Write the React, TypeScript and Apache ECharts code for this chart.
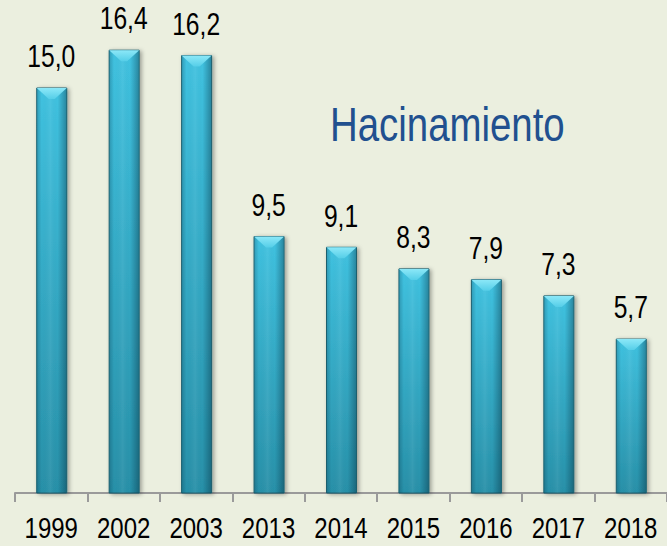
import React, { useEffect, useRef } from "react";
import * as echarts from "echarts";

const years = ["1999", "2002", "2003", "2013", "2014", "2015", "2016", "2017", "2018"];
const values = [15.0, 16.4, 16.2, 9.5, 9.1, 8.3, 7.9, 7.3, 5.7];
const titleText = "Hacinamiento";

const FONT = '"Liberation Sans", Arial, sans-serif';

export default function App() {
  const ref = useRef<HTMLDivElement>(null);
  useEffect(() => {
    if (!ref.current) return;
    const chart = echarts.init(ref.current, null, { renderer: "svg" });
    const fmt = (v: number) => v.toFixed(1).replace(".", ",");
    chart.setOption({
      animation: false,
      backgroundColor: "#ebefdf",
      textStyle: { fontFamily: FONT },
      grid: { left: 15, right: -5, top: 7, bottom: 53 },
      xAxis: {
        type: "category",
        data: years,
        axisLine: { lineStyle: { color: "#9a9a9a", width: 2 } },
        axisTick: { show: true, length: 9, interval: 0, lineStyle: { color: "#9a9a9a", width: 2 } },
        axisLabel: { show: false },
      },
      yAxis: { type: "value", min: 0, max: 18, show: false, splitLine: { show: false } },
      graphic: [
        {
          type: "text",
          x: 330,
          y: 100,
          scaleX: 0.8,
          style: {
            text: titleText,
            font: `48px ${FONT}`,
            fill: "#21508f",
            verticalAlign: "top",
          },
        },
      ],
      series: [
        {
          type: "custom",
          data: values.map((v, i) => [i, v]),
          encode: { x: 0, y: 1 },
          renderItem: (params: any, api: any) => {
            const i = api.value(0);
            const v = api.value(1);
            const top = api.coord([i, v]);
            const base = api.coord([i, 0]);
            const w = 30;
            const x0 = top[0] - w / 2 + 0.5;
            const y0 = top[1];
            const h = base[1] - top[1];
            const bev = 11;
            return {
              type: "group",
              children: [
                {
                  type: "rect",
                  shape: { x: x0, y: y0, width: w, height: h },
                  style: {
                    fill: new echarts.graphic.LinearGradient(0, 0, 0, 1, [
                      { offset: 0, color: "#40c2e0" },
                      { offset: 1, color: "#2890a8" },
                    ]),
                    stroke: "#1a5e6e",
                    lineWidth: 1,
                    shadowBlur: 4,
                    shadowOffsetX: 2,
                    shadowOffsetY: 1,
                    shadowColor: "rgba(0,0,0,0.35)",
                  },
                },
                {
                  type: "rect",
                  shape: { x: x0 + 0.5, y: y0, width: w - 1, height: h },
                  style: {
                    fill: new echarts.graphic.LinearGradient(0, 0, 1, 0, [
                      { offset: 0, color: "rgba(0,40,60,0.22)" },
                      { offset: 0.15, color: "rgba(0,40,60,0)" },
                      { offset: 0.45, color: "rgba(255,255,255,0.06)" },
                      { offset: 0.7, color: "rgba(0,40,60,0)" },
                      { offset: 1, color: "rgba(0,30,45,0.35)" },
                    ]),
                  },
                },
                {
                  type: "polygon",
                  shape: {
                    points: [
                      [x0, y0],
                      [x0 + w, y0],
                      [x0 + w / 2 + 3, y0 + bev],
                      [x0 + w / 2 - 3, y0 + bev],
                    ],
                  },
                  style: {
                    fill: new echarts.graphic.LinearGradient(0, 0, 0, 1, [
                      { offset: 0, color: "#8ce8f8" },
                      { offset: 1, color: "#55cee8" },
                    ]),
                  },
                },
                {
                  type: "text",
                  x: top[0],
                  y: y0 - 16,
                  scaleX: 0.77,
                  style: {
                    text: fmt(v),
                    font: `32px ${FONT}`,
                    fill: "#000",
                    align: "center",
                    verticalAlign: "bottom",
                  },
                },
                {
                  type: "text",
                  x: base[0],
                  y: base[1] + 19,
                  scaleX: 0.8,
                  style: {
                    text: years[i],
                    font: `30px ${FONT}`,
                    fill: "#000",
                    align: "center",
                    verticalAlign: "top",
                  },
                },
              ],
            };
          },
        },
      ],
    });
    return () => chart.dispose();
  }, []);
  return (
    <div
      ref={ref}
      style={{ position: "fixed", left: 0, top: 0, width: 667, height: 546 }}
    />
  );
}
